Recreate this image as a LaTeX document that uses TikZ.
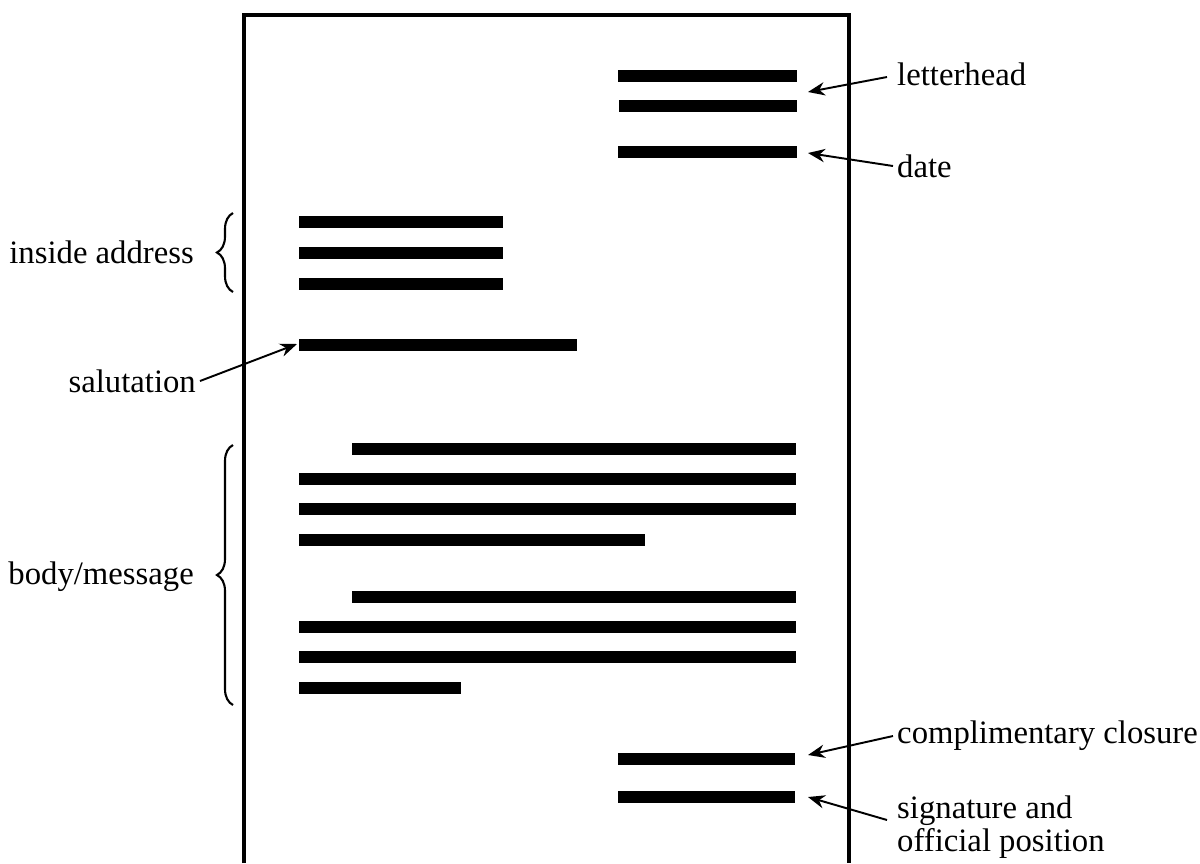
\documentclass[tikz,border=0pt]{standalone}
\usepackage{fontspec}
\setmainfont{Liberation Serif}
\usetikzlibrary{arrows.meta,decorations.pathreplacing}
\begin{document}
\begin{tikzpicture}[x=0.01cm,y=-0.01cm,
  bar/.style={line width=3.2pt},
  page/.style={line width=0.9pt},
  lbl/.style={font=\fontsize{9.3}{9.2}\selectfont, inner sep=1pt},
  pointer/.style={line width=0.55pt,-{Stealth[length=4.8pt,width=3.8pt]}},
  bracestyle/.style={line width=0.6pt,decorate,decoration={brace,amplitude=0.16cm}}]
\useasboundingbox (0,0) rectangle (1200,863);
% page outline
\draw[page] (244,863) -- (244,15) -- (849,15) -- (849,863);
% letterhead and date
\draw[bar] (618,76) -- (797,76);
\draw[bar] (619,106) -- (797,106);
\draw[bar] (618,152) -- (797,152);
% inside address
\draw[bar] (299,222) -- (503,222);
\draw[bar] (299,253) -- (503,253);
\draw[bar] (299,284) -- (503,284);
% salutation
\draw[bar] (299,345) -- (577,345);
% body
\draw[bar] (352,449) -- (796,449);
\draw[bar] (299,479) -- (796,479);
\draw[bar] (299,509) -- (796,509);
\draw[bar] (299,540) -- (645,540);
\draw[bar] (352,597) -- (796,597);
\draw[bar] (299,627) -- (796,627);
\draw[bar] (299,657) -- (796,657);
\draw[bar] (299,688) -- (461,688);
% closure and signature
\draw[bar] (618,759) -- (795,759);
\draw[bar] (618,797) -- (795,797);
% arrow tips
\coordinate (tlh) at (808,92);
\coordinate (tdate) at (808,153);
\coordinate (tsal) at (297,344);
\coordinate (tclos) at (808,755);
\coordinate (tsig) at (808,797);
% labels
\node[lbl,anchor=west] (lh) at (893,74) {letterhead};
\node[lbl,anchor=west] (date) at (893,166) {date};
\node[lbl,anchor=east] (ia) at (198,252) {inside address};
\node[lbl,anchor=east] (sal) at (200,381) {salutation};
\node[lbl,anchor=east] (body) at (198,577) {body/message};
\node[lbl,anchor=west] (clos) at (893,736) {complimentary closure};
\node[lbl,anchor=north west,align=left] (sig) at (893,792) {signature and\\official position};
% pointers
\draw[pointer] (887,77) -- (tlh);
\draw[pointer] (date.west) -- (tdate);
\draw[pointer] (sal.east) -- (tsal);
\draw[pointer] (clos.west) -- (tclos);
\draw[pointer] (887,820) -- (tsig);
% braces
\draw[bracestyle] (233,292) -- (233,213);
\draw[bracestyle] (233,705) -- (233,445);
\end{tikzpicture}
\end{document}
